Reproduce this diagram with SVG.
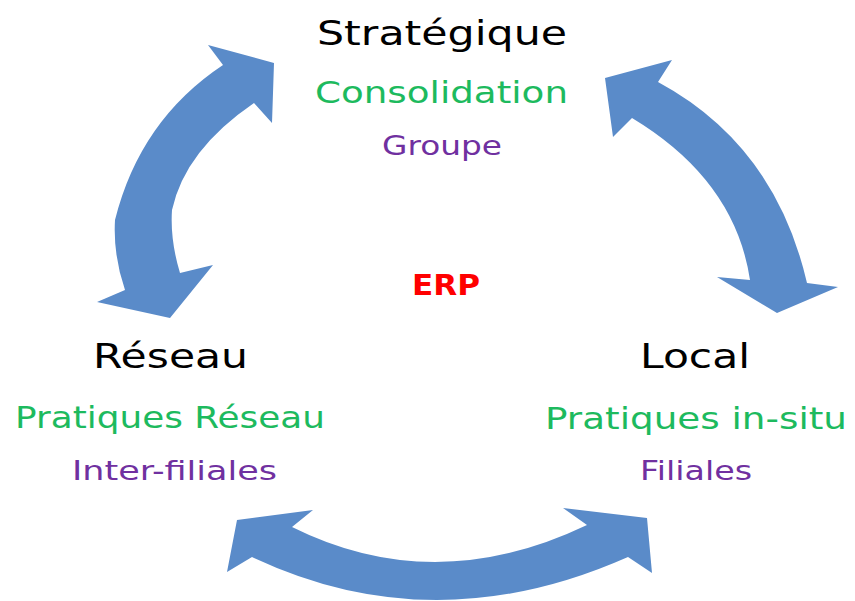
<svg xmlns="http://www.w3.org/2000/svg" width="855" height="601" viewBox="0 0 855 601">
<style>
text{font-family:"DejaVu Sans","Liberation Sans",sans-serif;text-anchor:start}
.h{font-size:33px;fill:#000}
.g{font-size:30px;fill:#1DBA5E}
.p{font-size:26px;fill:#7030A0}
.e{font-size:28px;font-weight:bold;fill:#FF0000}
.arr{fill:#5A8BC9}
</style>
<rect width="855" height="601" fill="#fff"/>
<g id="connectors">
<path class="arr" d="M274,63 L208,45 L223,65 Q140,120 115,220 Q113,255 125,290 L97,302 L170,318 L213,265 L180,273 Q170,240 172,210 Q185,150 254,103 L272,123 Z"/>
<path class="arr" d="M605,78 L672,60 L658,82 Q775,145 807,283 L838,287 L777,313 L717,277 L750,280 Q735,180 632,118 L613,137 Z"/>
<path class="arr" d="M237,520 L313,510 L292,527 Q434.5,598 587,525 L563,508 L647,518 L652,573 L628,557 Q434,643 252,557 L227,572 Z"/>
</g>
<g id="strategique">
<text class="h" x="317" y="45" textLength="250" lengthAdjust="spacingAndGlyphs">Stratégique</text>
<text class="g" x="315" y="103" textLength="253" lengthAdjust="spacingAndGlyphs">Consolidation</text>
<text class="p" x="382" y="155" textLength="120" lengthAdjust="spacingAndGlyphs">Groupe</text>
</g>
<g id="erp">
<text class="e" x="412" y="295" textLength="68" lengthAdjust="spacingAndGlyphs">ERP</text>
</g>
<g id="reseau">
<text class="h" x="93" y="368" textLength="155" lengthAdjust="spacingAndGlyphs">Réseau</text>
<text class="g" x="15" y="428" textLength="310" lengthAdjust="spacingAndGlyphs">Pratiques Réseau</text>
<text class="p" x="72" y="480" textLength="205" lengthAdjust="spacingAndGlyphs">Inter-filiales</text>
</g>
<g id="local">
<text class="h" x="640" y="368" textLength="110" lengthAdjust="spacingAndGlyphs">Local</text>
<text class="g" x="545" y="429" textLength="302" lengthAdjust="spacingAndGlyphs">Pratiques in-situ</text>
<text class="p" x="640" y="480" textLength="112" lengthAdjust="spacingAndGlyphs">Filiales</text>
</g>
</svg>
